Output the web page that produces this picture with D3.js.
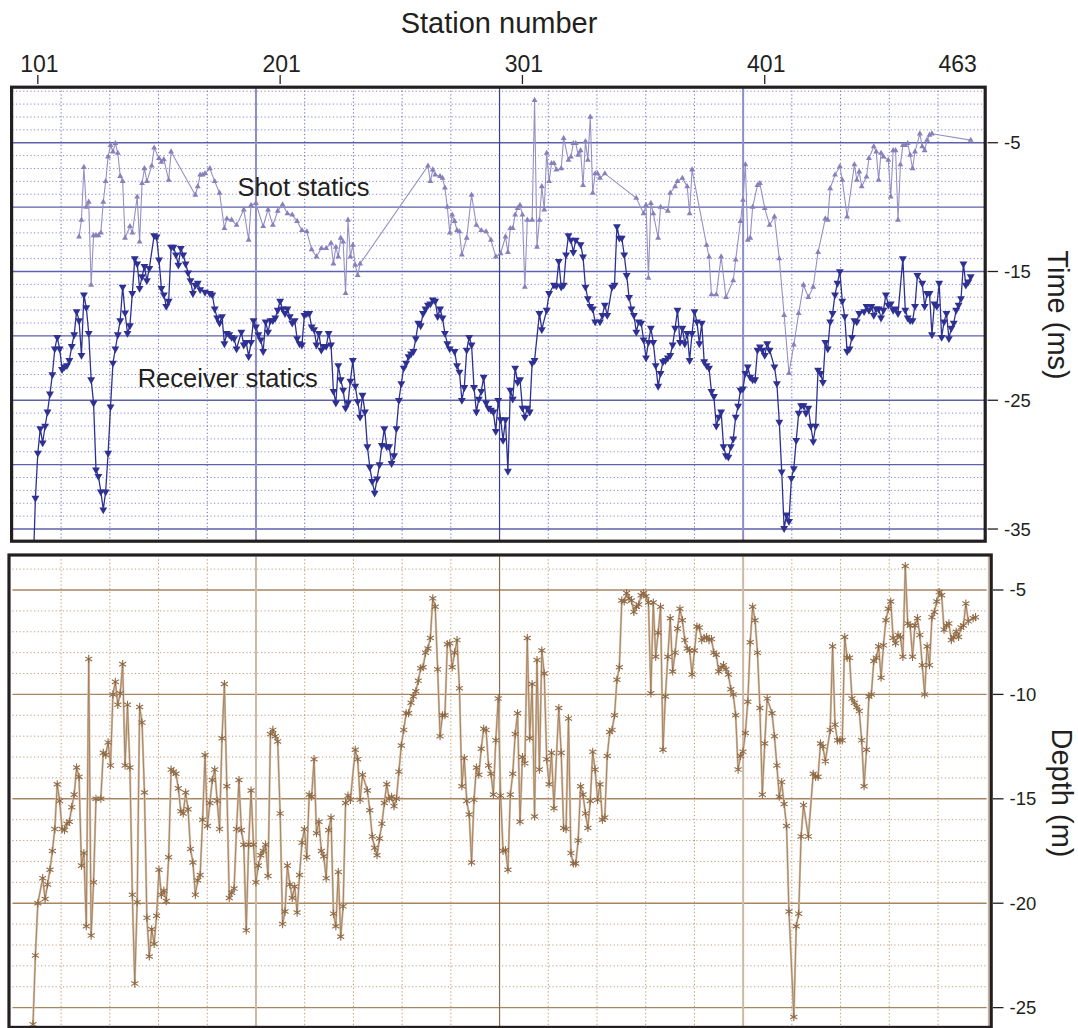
<!DOCTYPE html>
<html>
<head>
<meta charset="utf-8">
<script src="https://cdn.jsdelivr.net/npm/d3@7"></script>
<style>
  body { margin: 0; background: #fff; }
  text { font-family: "Liberation Sans", Arial, Helvetica, sans-serif; fill: #231f20; }
</style>
</head>
<body>
<svg id="chart" width="1078" height="1028"></svg>
<script>
// x values are plot positions in station units; last label reads 463
var stationTicks = [101, 201, 301, 401, 480];
var stationLabels = ["101", "201", "301", "401", "463"];
var timeTicks = [-5, -15, -25, -35];
var depthTicks = [-5, -10, -15, -20, -25];

// shot statics (ms)
var shotStatics = [[118,-12.3],[119,-11.0],[120,-6.9],[121,-10.0],[122,-9.6],[123,-16.05],[124,-12.2],[125,-12.2],[126,-12.2],[127,-12.0],
  [128,-9.6],[129,-8.0],[130,-6.1],[131,-5.2],[132,-5.7],[133,-5.05],[134,-5.8],[135,-7.6],[136,-8.0],[137,-12.4],[139,-11.5],[140,-12.0],
  [142,-9.2],[143,-12.7],[144,-8.15],[145,-7.0],[146,-8.0],[148,-6.8],[149,-5.4],[151,-6.2],[152,-6.5],[153,-6.3],[155,-7.9],[156,-5.7],
  [166,-9.06],[167,-8.4],[168,-7.5],[169,-7.5],[170,-7.4],[172,-7.0],[174,-8.0],[176,-8.9],[178,-11.65],[179,-10.9],[181,-11.0],[183,-11.4],
  [186,-10.2],[188,-12.55],[189,-9.85],[191,-9.7],[194,-11.5],[196,-10.2],[198,-11.4],[200,-10.3],[202,-9.8],[204,-10.5],[206,-10.6],
  [208,-11.1],[210,-11.8],[212,-11.9],[214,-13.3],[216,-13.85],[218,-13.2],[220,-13.2],[222,-12.8],[223,-14.4],[224,-13.1],[225,-13.85],
  [226,-12.4],[227,-12.7],[228,-16.7],[229,-11.0],[230,-13.85],[231,-12.95],[232,-14.5],[233,-15.3],[234,-14.4],
  [262,-6.8],[263,-8.0],[264,-7.1],[265,-7.5],[267,-7.6],[268,-7.75],[269,-8.5],[270,-10.0],[271,-12.0],[272,-10.6],[273,-11.1],[274,-11.8],
  [275,-11.9],[276,-13.7],[278,-12.4],[280,-9.06],[282,-11.4],[284,-11.8],[286,-11.9],[288,-12.55],[290,-13.85],[292,-13.6],[294,-12.3],
  [295,-13.5],[296,-11.65],[297,-11.65],[298,-10.6],[299,-10.1],[300,-9.85],[301,-10.6],[302,-16.2],[303,-11.0],[305,-11.0],[306,-1.7],
  [307,-13.1],[308,-11.0],[309,-8.4],[310,-10.2],[311,-5.8],[312,-8.0],[313,-6.6],[314,-6.6],[315,-7.1],[317,-7.0],[318,-4.65],[320,-6.35],
  [321,-6.1],[322,-5.05],[323,-5.05],[324,-5.95],[325,-5.6],[326,-8.3],[327,-4.9],[328,-6.35],[329,-3.0],[330,-8.9],[331,-7.4],[332,-7.4],
  [333,-7.75],[335,-7.4],[348,-9.3],[351,-10.5],[352,-9.85],[353,-15.5],[354,-9.7],[355,-10.5],[357,-12.4],[358,-10.0],[361,-10.3],
  [362,-8.9],[364,-8.4],[365,-8.0],[367,-7.75],[369,-8.4],[370,-10.5],[371,-7.1],[377,-12.95],[378,-13.85],[379,-16.8],[381,-16.8],
  [383,-13.85],[385,-17.0],[388,-15.7],[389,-14.1],[391,-11.1],[392,-9.45],[393,-6.7],[394,-12.55],[395,-12.4],[396,-10.0],[398,-8.3],
  [399,-8.15],[401,-10.1],[403,-11.4],[405,-10.75],[407,-14.0],[409,-18.4],[411,-22.9],[413,-20.7],[415,-18.25],[417,-16.05],[419,-17.0],
  [421,-16.2],[423,-13.5],[426,-10.9],[427,-11.0],[428,-8.55],[430,-7.5],[432,-6.85],[433,-7.9],[435,-10.75],[438,-6.7],[439,-7.9],
  [440,-7.25],[441,-8.4],[443,-7.65],[444,-6.2],[446,-5.3],[447,-5.7],[448,-7.9],[449,-5.8],[450,-6.1],[452,-6.35],[453,-9.2],[454,-5.6],
  [455,-5.6],[456,-11.0],[457,-6.7],[458,-5.2],[459,-5.2],[460,-5.05],[461,-5.95],[462,-7.0],[463,-5.7],[465,-4.3],[466,-5.3],[467,-5.6],
  [468,-4.8],[469,-4.4],[470,-4.3],[486,-4.8]];

// receiver statics (ms)
var receiverStatics = [[99,-38.5],[100,-32.6],[101,-29.1],[102,-27.2],[103,-28.3],[104,-27.0],[105,-25.9],[106,-24.5],[107,-23.0],[108,-21.0],
  [109,-20.1],[110,-21.0],[111,-22.6],[112,-22.4],[113,-22.3],[114,-21.9],[115,-20.8],[116,-19.9],[117,-18.1],[118,-18.8],[119,-21.5],
  [120,-16.8],[121,-17.8],[122,-19.8],[123,-23.4],[124,-25.2],[125,-30.4],[126,-30.9],[127,-32.1],[128,-33.5],[129,-32.1],[130,-29.1],
  [131,-25.5],[132,-22.1],[133,-21.0],[134,-19.9],[135,-18.8],[136,-16.2],[137,-18.2],[138,-19.8],[139,-19.2],[140,-16.7],[141,-14.0],
  [142,-14.4],[143,-16.3],[144,-15.4],[145,-14.6],[146,-15.7],[147,-14.75],[149,-12.2],[150,-12.3],[151,-14.1],[152,-16.3],[153,-16.8],
  [154,-17.7],[155,-17.3],[156,-13.1],[157,-13.1],[158,-13.7],[159,-14.5],[160,-13.2],[161,-13.7],[162,-14.4],[163,-15.1],[164,-15.7],
  [165,-16.7],[166,-16.05],[167,-15.9],[168,-16.4],[170,-16.6],[172,-16.7],[173,-16.8],[174,-17.9],[175,-18.6],[176,-19.0],[177,-18.5],
  [178,-20.6],[179,-19.8],[180,-19.9],[181,-20.1],[182,-20.2],[183,-21.0],[185,-19.7],[186,-20.7],[187,-20.5],[188,-21.6],[189,-20.5],
  [190,-18.8],[191,-19.3],[192,-19.9],[193,-20.3],[194,-21.2],[195,-18.9],[196,-19.7],[197,-18.8],[198,-18.8],[199,-18.6],[200,-18.0],
  [201,-17.3],[202,-17.9],[203,-18.25],[204,-17.9],[205,-18.5],[206,-19.0],[207,-18.8],[208,-20.2],[209,-20.6],[210,-20.7],[211,-18.4],
  [212,-18.25],[213,-18.25],[214,-19.3],[215,-19.5],[216,-20.7],[217,-19.8],[218,-21.1],[219,-20.8],[220,-20.8],[221,-19.8],[222,-20.7],
  [223,-24.3],[224,-25.2],[225,-22.3],[226,-23.4],[227,-24.2],[228,-25.6],[229,-25.2],[230,-23.5],[231,-21.9],[232,-23.9],[233,-25.1],
  [234,-26.3],[235,-24.6],[236,-25.9],[237,-28.6],[238,-30.2],[239,-31.3],[240,-32.2],[241,-31.1],[242,-30.0],[243,-28.5],[244,-27.2],
  [245,-28.6],[246,-28.6],[247,-29.9],[248,-29.3],[249,-27.2],[250,-25.0],[251,-23.7],[252,-22.5],[253,-22.1],[254,-21.6],[255,-21.4],
  [256,-21.2],[257,-20.2],[258,-19.0],[259,-19.2],[260,-18.25],[261,-17.9],[262,-17.6],[263,-17.5],[264,-17.2],[265,-17.3],[266,-18.5],
  [267,-17.9],[268,-18.6],[269,-19.8],[270,-20.6],[271,-21.0],[273,-21.2],[274,-22.3],[275,-22.8],[276,-25.0],[277,-24.0],[278,-21.1],
  [279,-20.1],[280,-20.7],[281,-24.0],[282,-25.9],[283,-24.9],[284,-24.3],[285,-23.2],[286,-25.2],[287,-25.6],[288,-25.75],[289,-25.9],
  [290,-27.4],[291,-25.0],[292,-26.5],[293,-28.1],[294,-26.5],[295,-30.5],[296,-24.2],[297,-24.9],[298,-22.5],[299,-23.6],[300,-23.4],
  [301,-25.6],[302,-26.3],[303,-25.6],[304,-25.9],[305,-22.1],[306,-21.9],[308,-18.25],[309,-19.5],[311,-18.0],[312,-16.7],[314,-16.05],
  [315,-16.1],[316,-14.2],[317,-16.2],[318,-16.05],[319,-13.7],[320,-12.2],[321,-12.55],[322,-13.5],[323,-12.55],[325,-12.9],[326,-13.85],
  [327,-16.2],[328,-17.1],[329,-17.7],[330,-17.9],[331,-18.9],[333,-18.9],[334,-18.4],[335,-17.6],[336,-18.4],[338,-16.2],[339,-16.05],
  [340,-11.5],[341,-12.4],[342,-12.4],[343,-13.7],[344,-15.3],[345,-17.0],[346,-17.9],[347,-18.4],[348,-19.7],[349,-18.9],[350,-19.0],
  [351,-20.3],[352,-21.7],[353,-20.5],[354,-19.4],[355,-20.5],[356,-22.3],[357,-23.9],[358,-22.9],[359,-22.0],[360,-21.9],[361,-21.7],
  [362,-21.5],[363,-20.7],[364,-19.4],[365,-18.0],[366,-20.5],[367,-19.4],[368,-20.6],[369,-19.8],[370,-21.9],[371,-19.8],[372,-18.1],
  [373,-18.9],[374,-20.6],[375,-19.0],[376,-22.0],[377,-22.3],[378,-22.5],[379,-24.3],[380,-24.7],[381,-27.0],[382,-26.3],[383,-25.9],
  [384,-28.6],[385,-29.3],[386,-29.4],[387,-28.6],[388,-28.0],[389,-26.3],[390,-25.45],[391,-24.2],[392,-24.1],[393,-22.9],[394,-22.4],
  [395,-23.2],[396,-23.4],[397,-23.4],[398,-21.1],[399,-20.85],[400,-21.1],[401,-21.5],[402,-20.6],[403,-21.1],[405,-22.4],[406,-23.7],
  [407,-26.7],[408,-30.55],[409,-34.95],[410,-33.9],[411,-34.4],[412,-31.05],[413,-30.3],[414,-28.1],[415,-26.0],[416,-25.4],[417,-25.4],
  [418,-26.0],[419,-25.6],[420,-27.0],[421,-28.2],[422,-27.0],[423,-22.65],[424,-22.9],[425,-23.6],[426,-20.5],[427,-21.0],[428,-18.9],
  [429,-18.25],[430,-16.8],[431,-15.9],[432,-15.0],[433,-17.3],[434,-18.5],[435,-21.2],[436,-21.0],[437,-20.1],[438,-18.8],[439,-18.9],
  [440,-18.25],[442,-18.1],[443,-17.7],[444,-18.0],[445,-17.7],[446,-18.4],[447,-17.9],[448,-17.9],[449,-18.6],[450,-18.0],[451,-16.8],
  [452,-17.6],[453,-17.5],[454,-18.0],[455,-17.9],[456,-18.25],[458,-14.0],[459,-18.0],[460,-18.6],[461,-18.8],[462,-18.8],[463,-17.7],
  [464,-15.3],[466,-15.9],[467,-17.7],[468,-16.7],[469,-16.7],[470,-19.9],[471,-17.5],[472,-17.7],[473,-15.9],[474,-20.1],[475,-18.9],
  [476,-18.25],[477,-20.2],[478,-19.4],[479,-19.0],[480,-18.0],[481,-17.6],[482,-17.1],[483,-14.4],[484,-16.05],[485,-15.8],[486,-15.4]];

// depth (m)
var depthValues = [[99,-25.8],[100,-22.5],[101,-20.0],[103,-18.8],[104,-19.8],[105,-19.1],[106,-18.4],[107,-17.5],[108,-16.45],[109,-14.3],
  [110,-15.1],[111,-16.45],[112,-16.5],[113,-16.2],[114,-16.1],[115,-15.4],[116,-14.8],[117,-13.5],[118,-13.95],[119,-18.2],[120,-17.6],
  [121,-21.1],[122,-8.3],[123,-21.55],[124,-19.0],[125,-15.0],[127,-15.0],[128,-12.8],[129,-12.9],[130,-12.3],[131,-13.4],[132,-10.0],
  [133,-9.4],[134,-10.5],[135,-9.95],[136,-8.55],[137,-13.4],[138,-10.5],[139,-13.5],[140,-19.6],[141,-23.85],[142,-19.95],[143,-10.6],
  [144,-11.35],[145,-14.7],[146,-20.7],[147,-22.55],[148,-21.25],[149,-21.95],[150,-20.6],[151,-18.4],[152,-19.6],[153,-19.4],[154,-19.9],
  [155,-17.8],[156,-13.6],[157,-13.7],[158,-13.8],[159,-14.5],[160,-15.6],[161,-15.7],[162,-14.7],[163,-15.5],[164,-17.4],[165,-18.05],
  [166,-19.6],[167,-18.9],[168,-18.65],[169,-16.0],[170,-12.9],[171,-16.3],[172,-15.2],[173,-14.1],[174,-13.6],[175,-15.1],[176,-16.45],
  [177,-12.1],[178,-9.5],[179,-14.4],[180,-19.75],[181,-19.5],[182,-19.3],[183,-16.45],[184,-14.1],[185,-16.5],[186,-17.2],[187,-21.3],
  [188,-17.2],[189,-14.6],[190,-17.2],[191,-19.0],[192,-18.2],[193,-17.7],[194,-17.5],[195,-17.2],[196,-18.7],[197,-11.9],[198,-11.7],
  [199,-12.0],[200,-12.25],[201,-15.7],[202,-21.0],[203,-20.4],[204,-18.2],[205,-19.1],[206,-19.75],[207,-19.2],[208,-20.45],[209,-18.65],
  [210,-17.1],[211,-16.45],[212,-17.8],[213,-14.8],[214,-14.9],[215,-13.1],[216,-16.65],[217,-16.1],[218,-17.5],[219,-17.75],[220,-18.8],
  [221,-16.5],[222,-15.9],[223,-20.5],[224,-21.1],[225,-18.5],[226,-21.6],[227,-20.15],[228,-15.2],[229,-14.85],[230,-15.05],[232,-12.65],
  [233,-13.1],[234,-15.05],[235,-13.85],[237,-14.6],[238,-15.55],[239,-16.8],[240,-17.35],[241,-17.7],[242,-16.9],[243,-16.2],[244,-15.2],
  [245,-14.3],[246,-15.0],[247,-14.9],[248,-15.35],[249,-15.0],[250,-13.7],[251,-12.45],[252,-11.7],[253,-10.9],[254,-10.9],[255,-10.4],
  [256,-10.1],[257,-9.85],[258,-9.35],[259,-8.75],[260,-8.7],[261,-8.0],[262,-7.8],[263,-7.3],[264,-5.4],[265,-5.8],[266,-8.8],[267,-12.0],
  [268,-11.0],[269,-11.0],[270,-7.6],[271,-7.55],[272,-8.7],[273,-8.0],[274,-7.4],[275,-9.7],[276,-14.4],[277,-13.05],[278,-15.1],
  [279,-15.75],[280,-18.05],[281,-15.05],[282,-13.5],[283,-13.85],[284,-12.6],[285,-11.65],[286,-11.7],[287,-13.4],[288,-13.8],[289,-14.8],
  [290,-12.2],[291,-10.2],[292,-14.85],[293,-17.5],[294,-17.45],[295,-18.4],[296,-14.8],[297,-13.8],[298,-11.9],[299,-10.9],[300,-16.1],
  [301,-13.0],[302,-13.3],[303,-7.3],[304,-12.1],[305,-9.5],[306,-15.85],[307,-8.35],[308,-13.6],[309,-7.9],[310,-9.0],[311,-13.1],
  [312,-14.3],[313,-12.8],[314,-15.45],[316,-10.65],[317,-12.8],[318,-16.4],[319,-16.45],[320,-11.15],[321,-17.6],[322,-18.1],[323,-18.1],
  [324,-17.0],[325,-14.4],[326,-14.8],[327,-15.7],[328,-16.4],[329,-15.1],[330,-12.75],[331,-13.6],[332,-15.05],[333,-14.3],[334,-16.0],
  [335,-15.9],[336,-12.95],[337,-11.8],[338,-11.7],[339,-11.0],[340,-9.3],[341,-8.7],[342,-5.5],[343,-5.55],[344,-5.15],[345,-5.4],
  [346,-5.5],[347,-6.05],[348,-5.8],[349,-5.7],[350,-5.25],[351,-5.15],[352,-5.3],[353,-5.6],[354,-9.95],[355,-5.6],[356,-8.2],[357,-7.05],
  [358,-5.8],[359,-12.65],[360,-10.1],[361,-8.2],[362,-6.35],[363,-8.9],[364,-8.0],[365,-6.85],[366,-5.9],[367,-6.45],[368,-7.4],[369,-7.8],
  [370,-7.9],[371,-9.05],[372,-7.9],[373,-6.75],[374,-6.8],[375,-7.4],[376,-7.3],[377,-7.25],[378,-7.4],[379,-7.35],[380,-8.0],[381,-8.1],
  [382,-8.9],[383,-8.7],[384,-8.6],[385,-8.8],[386,-9.05],[387,-9.75],[388,-10.0],[389,-11.0],[390,-13.6],[391,-12.95],[392,-12.75],
  [393,-11.85],[394,-10.35],[395,-7.5],[396,-5.8],[397,-6.45],[398,-8.0],[399,-10.65],[400,-14.8],[401,-12.35],[402,-10.2],[404,-10.9],
  [405,-12.0],[406,-13.4],[407,-14.9],[408,-14.2],[409,-15.25],[410,-16.3],[411,-20.4],[413,-25.45],[414,-21.1],[415,-20.5],[416,-16.8],
  [417,-15.3],[419,-16.8],[421,-13.8],[422,-13.95],[423,-13.95],[424,-12.35],[425,-12.5],[426,-13.2],[428,-11.7],[429,-7.7],[430,-11.45],
  [431,-12.2],[432,-12.2],[433,-12.2],[434,-7.25],[435,-8.25],[436,-8.25],[437,-10.2],[438,-10.4],[439,-10.6],[440,-10.8],[441,-12.2],
  [442,-14.4],[443,-12.65],[444,-10.1],[445,-10.0],[446,-8.4],[447,-8.25],[448,-7.7],[449,-9.2],[450,-7.65],[451,-6.45],[452,-5.9],
  [453,-5.55],[454,-7.3],[455,-7.55],[456,-7.15],[457,-7.25],[458,-8.2],[459,-3.85],[460,-6.6],[461,-6.7],[462,-8.2],[463,-6.7],[464,-6.35],
  [465,-7.15],[466,-8.6],[467,-10.0],[468,-7.7],[469,-8.6],[470,-6.3],[471,-6.05],[472,-5.55],[473,-5.1],[474,-5.25],[475,-6.9],[476,-6.7],
  [477,-6.6],[478,-7.4],[479,-7.25],[480,-7.0],[481,-7.25],[482,-6.8],[483,-6.7],[484,-5.65],[485,-6.5],[487,-6.35],[488,-6.3]];

var svg = d3.select("#chart");

// scales
var x = d3.scaleLinear().domain([90.5, 492.6]).range([12.4, 986.7]);
var yTime = d3.scaleLinear().domain([-36, -0.75]).range([541.9, 88]);
var yDepth = d3.scaleLinear().domain([-26, -3.3]).range([1028.5, 554.5]);

var xd = x.domain();
var xGrid = d3.range(21).map(i => xd[0] + i * (xd[1] - xd[0]) / 20);

// clip paths
var defs = svg.append("defs");
defs.append("clipPath").attr("id", "clipTop").append("rect")
  .attr("x", 12.4).attr("y", 88).attr("width", 973).attr("height", 454);
defs.append("clipPath").attr("id", "clipBot").append("rect")
  .attr("x", 10.5).attr("y", 556.5).attr("width", 979).attr("height", 472);

function drawGrid(g, y, lo, hi, c) {
  var y0 = y.range()[0], y1 = y.range()[1];
  // horizontal
  d3.range(lo, hi + 1).forEach(function(v) {
    var major = v % 5 === 0;
    g.append("line")
      .attr("x1", x.range()[0]).attr("x2", x.range()[1])
      .attr("y1", y(v)).attr("y2", y(v))
      .attr("stroke", major ? c.hMajor : c.hMinor)
      .attr("stroke-width", major ? 1.4 : 1)
      .attr("stroke-dasharray", major ? null : "1.2,2.4");
  });
  // vertical
  xGrid.forEach(function(v, i) {
    if (i === 0 || i === 20) return;
    var major = i % 5 === 0;
    g.append("line")
      .attr("x1", x(v)).attr("x2", x(v))
      .attr("y1", y0).attr("y2", y1)
      .attr("stroke", major ? (i === 10 ? c.vMid : c.vMajor) : c.vMinor)
      .attr("stroke-width", major ? (i === 10 ? 1.2 : 2) : 1)
      .attr("stroke-dasharray", major ? null : "1.2,2.4");
  });
}

// ---------- top panel ----------
var topG = svg.append("g");
var topPlot = topG.append("g").attr("clip-path", "url(#clipTop)");
drawGrid(topPlot, yTime, -35, -1, {
  hMajor: "#5d60aa", hMinor: "#8a8ad0", vMajor: "#8d8dc8", vMid: "#3a3e90", vMinor: "#6464bc"
});

var lineT = d3.line().x(d => x(d[0])).y(d => yTime(d[1]));

topPlot.append("path").datum(shotStatics)
  .attr("d", lineT).attr("fill", "none")
  .attr("stroke", "#9690c4").attr("stroke-width", 1.1);
topPlot.selectAll(".shot").data(shotStatics).enter().append("path")
  .attr("class", "shot")
  .attr("d", d3.symbol().type(d3.symbolTriangle).size(15))
  .attr("transform", d => "translate(" + x(d[0]) + "," + yTime(d[1]) + ")")
  .attr("fill", "#8780bb");

topPlot.append("path").datum(receiverStatics)
  .attr("d", lineT).attr("fill", "none")
  .attr("stroke", "#2e3192").attr("stroke-width", 1.3);
topPlot.selectAll(".rec").data(receiverStatics).enter().append("path")
  .attr("class", "rec")
  .attr("d", d3.symbol().type(d3.symbolTriangle).size(27))
  .attr("transform", d => "translate(" + x(d[0]) + "," + yTime(d[1]) + ") rotate(180)")
  .attr("fill", "#2e3192");

topG.append("text").attr("x", 237.6).attr("y", 196)
  .style("font-size", "25.5px").text("Shot statics");
topG.append("text").attr("x", 137.7).attr("y", 386.7)
  .style("font-size", "25.5px").text("Receiver statics");

topG.append("rect").attr("x", 11.6).attr("y", 87.2).attr("width", 973.6).attr("height", 454)
  .attr("fill", "none").attr("stroke", "#231f20").attr("stroke-width", 3.2);

// station axis on top
topG.append("text").attr("x", 499).attr("y", 33)
  .attr("text-anchor", "middle").style("font-size", "29px").text("Station number");
topG.selectAll(".stlab").data(stationTicks).enter().append("text")
  .attr("class", "stlab")
  .attr("x", d => x(d) + 1.5).attr("y", 71.5)
  .attr("text-anchor", "middle").style("font-size", "23px")
  .text((d, i) => stationLabels[i]);
topG.selectAll(".sttick").data(stationTicks.slice(0, 4)).enter().append("line")
  .attr("x1", d => x(d)).attr("x2", d => x(d))
  .attr("y1", 75).attr("y2", 84)
  .attr("stroke", "#231f20").attr("stroke-width", 1.3);

// time axis on right
topG.selectAll(".tt").data(timeTicks).enter().append("line")
  .attr("x1", 987.5).attr("x2", 998)
  .attr("y1", d => yTime(d)).attr("y2", d => yTime(d))
  .attr("stroke", "#231f20").attr("stroke-width", 1.3);
topG.selectAll(".tl").data(timeTicks).enter().append("text")
  .attr("x", 1004).attr("y", d => yTime(d) + 6.5)
  .style("font-size", "18.5px").text(d => d);
topG.append("text")
  .attr("transform", "translate(1048,315) rotate(90)")
  .attr("text-anchor", "middle").style("font-size", "29px").text("Time (ms)");

// ---------- bottom panel ----------
var botG = svg.append("g");
var botPlot = botG.append("g").attr("clip-path", "url(#clipBot)");
drawGrid(botPlot, yDepth, -25, -4, {
  hMajor: "#a88562", hMinor: "#c09d78", vMajor: "#cdb8a1", vMid: "#8d6b49", vMinor: "#b8936b"
});

var lineD = d3.line().x(d => x(d[0])).y(d => yDepth(d[1]));
botPlot.append("path").datum(depthValues)
  .attr("d", lineD).attr("fill", "none")
  .attr("stroke", "#d3c1ad").attr("stroke-width", 2.2);
botPlot.append("path").datum(depthValues)
  .attr("d", lineD).attr("fill", "none")
  .attr("stroke", "#a47d57").attr("stroke-width", 0.9);
botPlot.selectAll(".dep").data(depthValues).enter().append("path")
  .attr("class", "dep")
  .attr("d", d3.symbol().type(d3.symbolAsterisk).size(46))
  .attr("transform", d => "translate(" + x(d[0]) + "," + yDepth(d[1]) + ")")
  .attr("fill", "none").attr("stroke", "#8f6a45").attr("stroke-width", 1.1);

botG.append("line").attr("x1", 988.6).attr("x2", 988.6).attr("y1", 556).attr("y2", 1028)
  .attr("stroke", "#c9b39b").attr("stroke-width", 1.5);
botG.append("rect").attr("x", 9).attr("y", 555).attr("width", 982.2).attr("height", 472.4)
  .attr("fill", "none").attr("stroke", "#231f20").attr("stroke-width", 3.2);

botG.selectAll(".dt").data(depthTicks).enter().append("line")
  .attr("x1", 993).attr("x2", 1003.5)
  .attr("y1", d => yDepth(d)).attr("y2", d => yDepth(d))
  .attr("stroke", "#231f20").attr("stroke-width", 1.3);
botG.selectAll(".dl").data(depthTicks).enter().append("text")
  .attr("x", 1009.5).attr("y", d => yDepth(d) + 6.5)
  .style("font-size", "18.5px").text(d => d);
botG.append("text")
  .attr("transform", "translate(1052,793) rotate(90)")
  .attr("text-anchor", "middle").style("font-size", "29px").text("Depth (m)");
</script>
</body>
</html>
